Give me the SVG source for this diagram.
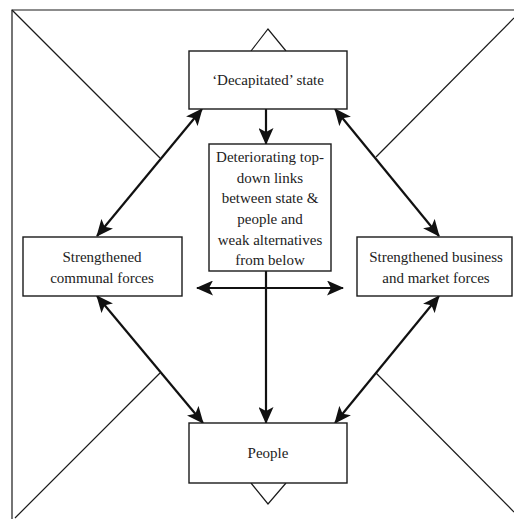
<svg xmlns="http://www.w3.org/2000/svg" width="514" height="519" viewBox="0 0 514 519">
<style>
.frame{fill:none;stroke:#1a1a1a;stroke-width:1.2}
.box{fill:#fff;stroke:#1a1a1a;stroke-width:1.4}
.con{fill:none;stroke:#111;stroke-width:2.2}
text{font-family:"Liberation Serif","Times New Roman",serif;font-size:15px;fill:#222;text-anchor:middle}
</style>
<defs>
<marker id="ah" viewBox="0 0 17 15" refX="16" refY="7.5" markerWidth="17" markerHeight="15" markerUnits="userSpaceOnUse" orient="auto-start-reverse">
<path d="M0,0 L17,7.5 L0,15 L4,7.5 z" fill="#111"/>
</marker>
</defs>
<rect width="514" height="519" fill="#fff"/>
<g id="frame">
<path class="frame" d="M12,519 L12,10 L514,10"/>
<path class="frame" d="M12,10 L160,158"/>
<path class="frame" d="M514,18 L376,157"/>
<path class="frame" d="M160,373 L15,518"/>
<path class="frame" d="M376,373 L514,512"/>
<path class="frame" d="M251,51 L268,29 L286,51"/>
<path class="frame" d="M251,483 L268,504 L286,483"/>
</g>
<g id="connectors">
<line class="con" x1="266" y1="109" x2="266" y2="144" marker-end="url(#ah)"/>
<line class="con" x1="97" y1="236" x2="202" y2="109" marker-start="url(#ah)" marker-end="url(#ah)"/>
<line class="con" x1="439" y1="236" x2="335" y2="109" marker-start="url(#ah)" marker-end="url(#ah)"/>
<line class="con" x1="197" y1="288" x2="343" y2="288" marker-start="url(#ah)" marker-end="url(#ah)"/>
<line class="con" x1="266" y1="271" x2="266" y2="423" marker-end="url(#ah)"/>
<line class="con" x1="97" y1="296" x2="203" y2="423" marker-start="url(#ah)" marker-end="url(#ah)"/>
<line class="con" x1="439" y1="296" x2="335" y2="423" marker-start="url(#ah)" marker-end="url(#ah)"/>
</g>
<g id="state">
<rect class="box" x="189" y="51" width="158" height="58"/>
<text x="268" y="85">‘Decapitated’ state</text>
</g>
<g id="links">
<rect class="box" x="209" y="144" width="122" height="127"/>
<text x="270" y="162">Deteriorating top-</text>
<text x="270" y="183">down links</text>
<text x="270" y="203">between state &amp;</text>
<text x="270" y="224">people and</text>
<text x="270" y="245">weak alternatives</text>
<text x="270" y="265">from below</text>
</g>
<g id="communal">
<rect class="box" x="23" y="237" width="159" height="59"/>
<text x="102" y="262">Strengthened</text>
<text x="102" y="283">communal forces</text>
</g>
<g id="business">
<rect class="box" x="357" y="237" width="155" height="59"/>
<text x="436" y="262">Strengthened business</text>
<text x="436" y="283">and market forces</text>
</g>
<g id="people">
<rect class="box" x="189" y="423" width="158" height="60"/>
<text x="268" y="458">People</text>
</g>
</svg>
